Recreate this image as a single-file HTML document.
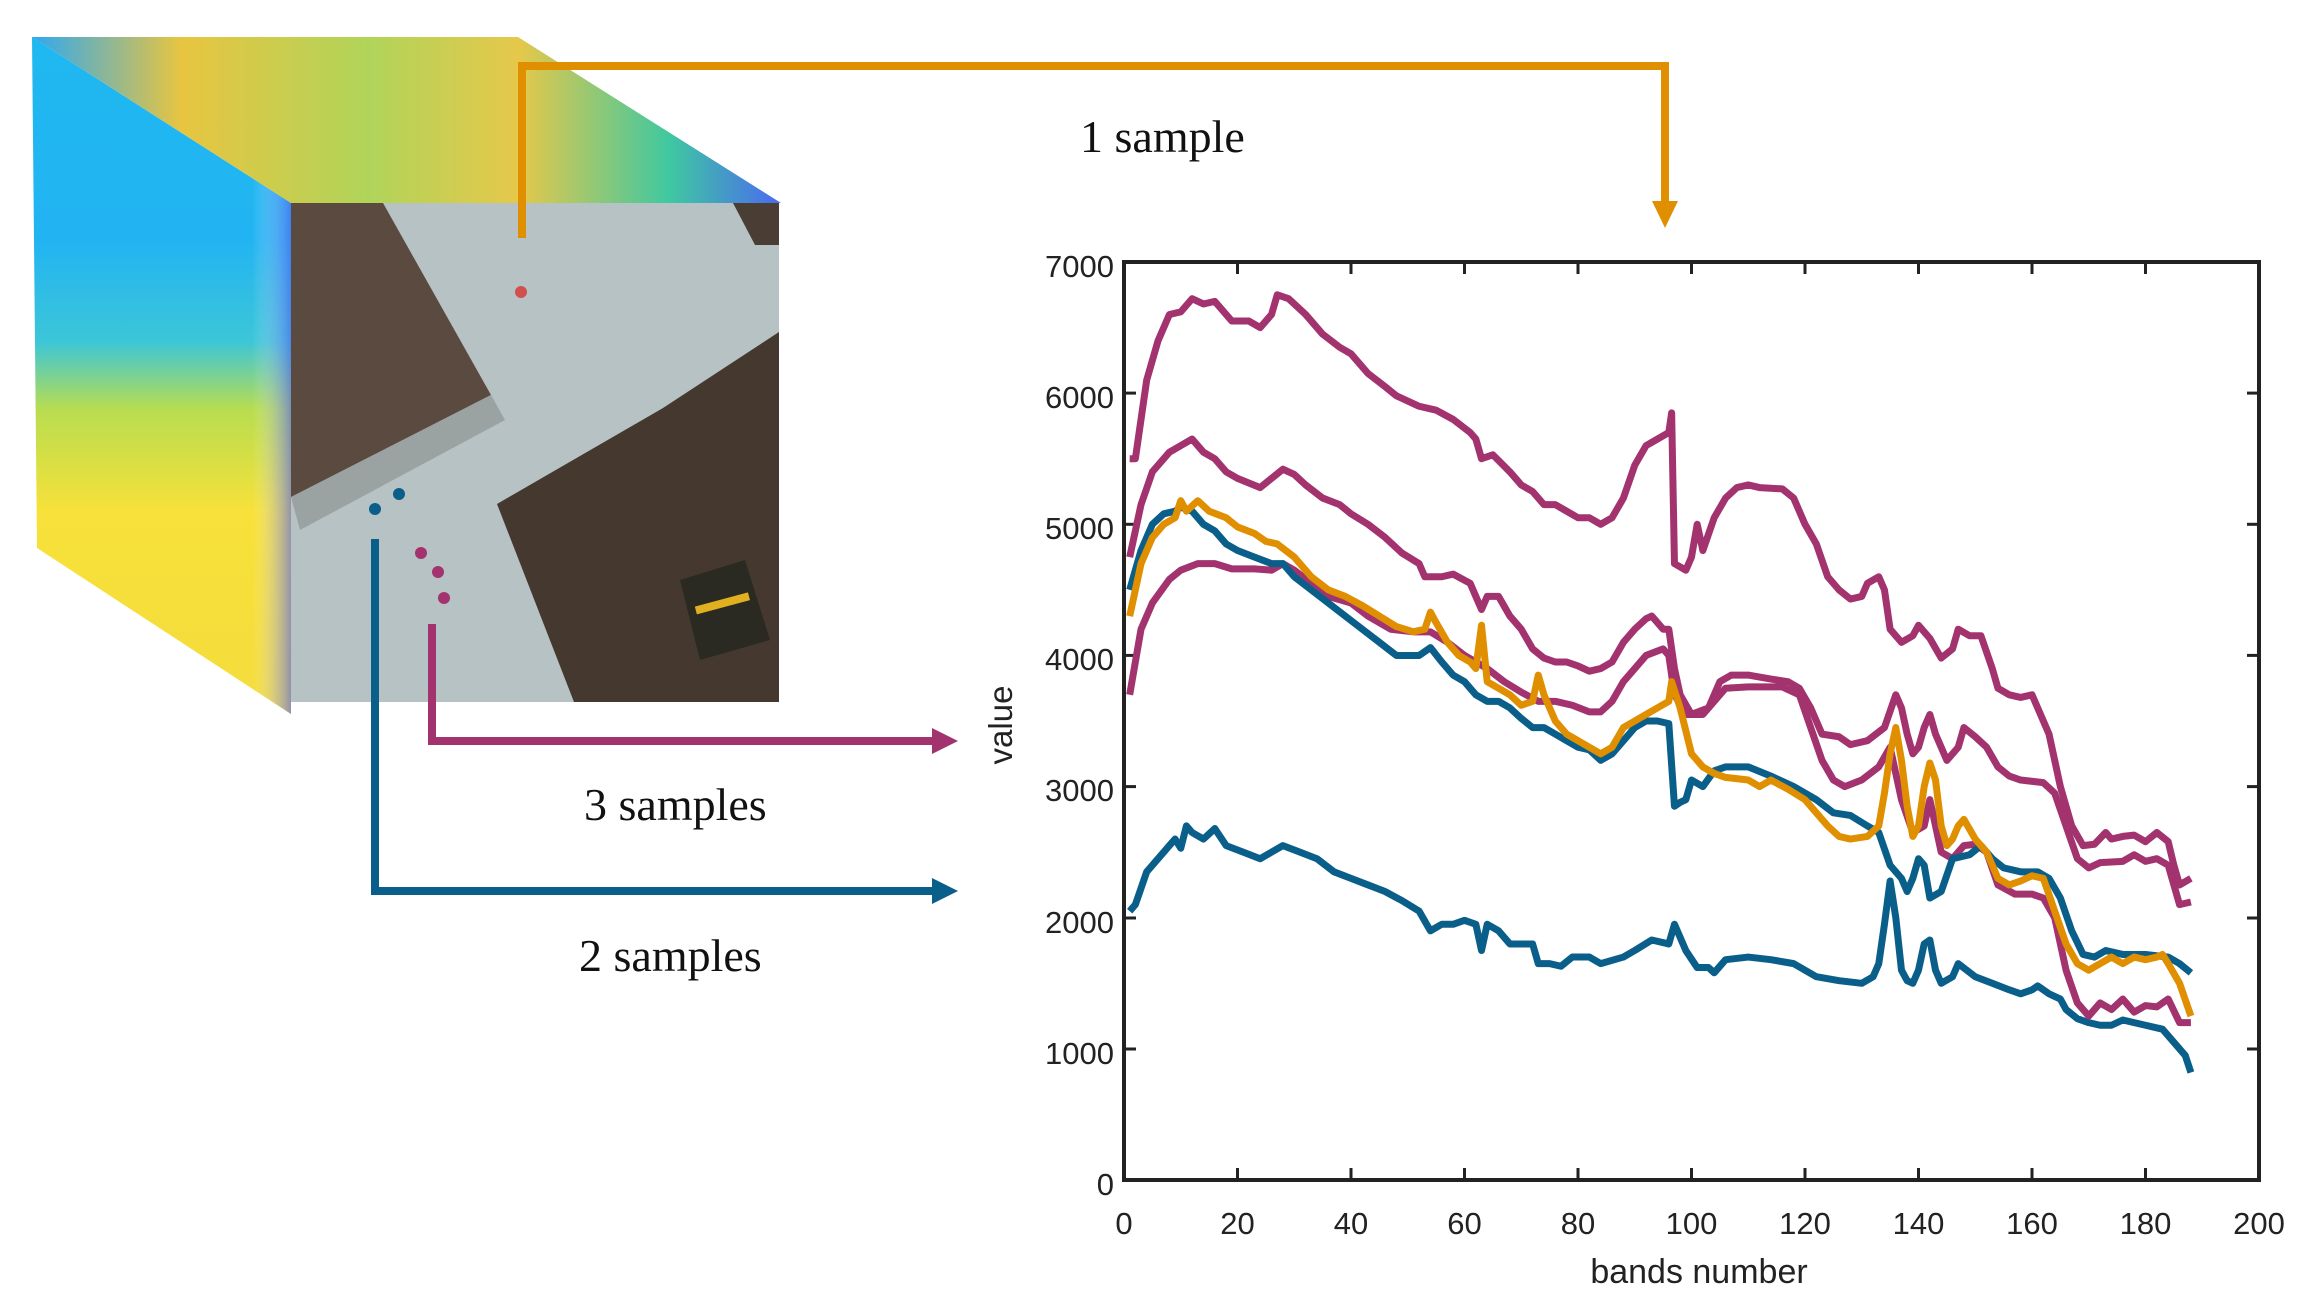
<!DOCTYPE html>
<html><head><meta charset="utf-8"><style>
html,body{margin:0;padding:0;background:#fff;}
svg{display:block;}
</style></head><body>
<svg width="2305" height="1305" viewBox="0 0 2305 1305" xmlns="http://www.w3.org/2000/svg">
<defs>
<linearGradient id="lf" x1="0" y1="0" x2="0" y2="1">
<stop offset="0" stop-color="#1fb8f0"/><stop offset="0.3" stop-color="#22b4f2"/><stop offset="0.45" stop-color="#3cc6d8"/><stop offset="0.55" stop-color="#b8dd50"/><stop offset="0.7" stop-color="#f7e13a"/><stop offset="1" stop-color="#f4dc3c"/>
</linearGradient>
<linearGradient id="lf2" x1="0" y1="0" x2="1" y2="0">
<stop offset="0" stop-color="#fff" stop-opacity="0"/><stop offset="0.85" stop-color="#fff" stop-opacity="0"/><stop offset="1" stop-color="#5060f0" stop-opacity="0.6"/>
</linearGradient>
<linearGradient id="tf" x1="0" y1="0" x2="1" y2="0">
<stop offset="0" stop-color="#30a8f0"/><stop offset="0.2" stop-color="#e8c540"/><stop offset="0.45" stop-color="#b0d45a"/><stop offset="0.65" stop-color="#e6c84a"/><stop offset="0.85" stop-color="#40c8a0"/><stop offset="1" stop-color="#4a6af0"/>
</linearGradient>
</defs>
<polygon points="32,37 291,203 291,714 37,548" fill="url(#lf)"/>
<polygon points="32,37 291,203 291,714 37,548" fill="url(#lf2)"/>
<polygon points="32,37 518,37 781,203 291,203" fill="url(#tf)"/>
<rect x="291" y="203" width="488" height="499" fill="#b7c2c4"/>
<polygon points="291,203 383,203 491,395 291,497" fill="#5a4a40"/>
<polygon points="291,497 491,395 505,420 300,530" fill="#9aa2a2"/>
<polygon points="497,504 663,408 779,332 779,702 574,702" fill="#45382f"/>
<polygon points="733,203 779,203 779,245 755,245" fill="#4a3d33"/>
<polygon points="680,580 745,560 770,640 700,660" fill="#2a2a22"/>
<rect x="695" y="600" width="55" height="8" fill="#e0b020" transform="rotate(-15 720 604)"/>
<circle cx="521" cy="292" r="6" fill="#d05050"/>
<circle cx="375" cy="509" r="6" fill="#0a5f8a"/>
<circle cx="399" cy="494" r="6" fill="#0a5f8a"/>
<circle cx="421" cy="553" r="6" fill="#a3336e"/>
<circle cx="438" cy="572" r="6" fill="#a3336e"/>
<circle cx="444" cy="598" r="6" fill="#a3336e"/>
<g fill="none" stroke-width="8" stroke-linejoin="miter">
<polyline points="522,238 522,66 1665,66 1665,205" stroke="#e08f00"/>
<polyline points="432,624 432,741 935,741" stroke="#a3336e"/>
<polyline points="375,539 375,891 935,891" stroke="#0a5f8a"/>
</g>
<polygon points="1652,201 1678,201 1665,228" fill="#e08f00"/>
<polygon points="932,728 932,754 958,741" fill="#a3336e"/>
<polygon points="932,878 932,904 958,891" fill="#0a5f8a"/>
<g font-family="Liberation Serif, serif" font-size="46" fill="#111">
<text x="1080" y="152">1 sample</text>
<text x="584" y="820">3 samples</text>
<text x="579" y="971">2 samples</text>
</g>
<g stroke="#222" stroke-width="4" fill="none">
<rect x="1124" y="262" width="1135" height="918"/>
</g>
<g stroke="#222" stroke-width="3">
<line x1="1237.5" y1="1180" x2="1237.5" y2="1168"/><line x1="1237.5" y1="262" x2="1237.5" y2="274"/>
<line x1="1351" y1="1180" x2="1351" y2="1168"/><line x1="1351" y1="262" x2="1351" y2="274"/>
<line x1="1464.5" y1="1180" x2="1464.5" y2="1168"/><line x1="1464.5" y1="262" x2="1464.5" y2="274"/>
<line x1="1578" y1="1180" x2="1578" y2="1168"/><line x1="1578" y1="262" x2="1578" y2="274"/>
<line x1="1691.5" y1="1180" x2="1691.5" y2="1168"/><line x1="1691.5" y1="262" x2="1691.5" y2="274"/>
<line x1="1805" y1="1180" x2="1805" y2="1168"/><line x1="1805" y1="262" x2="1805" y2="274"/>
<line x1="1918.5" y1="1180" x2="1918.5" y2="1168"/><line x1="1918.5" y1="262" x2="1918.5" y2="274"/>
<line x1="2032" y1="1180" x2="2032" y2="1168"/><line x1="2032" y1="262" x2="2032" y2="274"/>
<line x1="2145.5" y1="1180" x2="2145.5" y2="1168"/><line x1="2145.5" y1="262" x2="2145.5" y2="274"/>
<line x1="1124" y1="1049" x2="1136" y2="1049"/><line x1="2259" y1="1049" x2="2247" y2="1049"/>
<line x1="1124" y1="918" x2="1136" y2="918"/><line x1="2259" y1="918" x2="2247" y2="918"/>
<line x1="1124" y1="786.6" x2="1136" y2="786.6"/><line x1="2259" y1="786.6" x2="2247" y2="786.6"/>
<line x1="1124" y1="655.4" x2="1136" y2="655.4"/><line x1="2259" y1="655.4" x2="2247" y2="655.4"/>
<line x1="1124" y1="524.3" x2="1136" y2="524.3"/><line x1="2259" y1="524.3" x2="2247" y2="524.3"/>
<line x1="1124" y1="393.1" x2="1136" y2="393.1"/><line x1="2259" y1="393.1" x2="2247" y2="393.1"/>
</g>
<g font-family="Liberation Sans, sans-serif" font-size="31" fill="#222" text-anchor="middle">
<text x="1124" y="1234">0</text><text x="1237.5" y="1234">20</text><text x="1351" y="1234">40</text><text x="1464.5" y="1234">60</text><text x="1578" y="1234">80</text><text x="1691.5" y="1234">100</text><text x="1805" y="1234">120</text><text x="1918.5" y="1234">140</text><text x="2032" y="1234">160</text><text x="2145.5" y="1234">180</text><text x="2259" y="1234">200</text>
</g>
<g font-family="Liberation Sans, sans-serif" font-size="31" fill="#222" text-anchor="end">
<text x="1114" y="1195">0</text><text x="1114" y="1064">1000</text><text x="1114" y="933">2000</text><text x="1114" y="801">3000</text><text x="1114" y="670">4000</text><text x="1114" y="539">5000</text><text x="1114" y="408">6000</text><text x="1114" y="277">7000</text>
</g>
<text x="1699" y="1283" font-family="Liberation Sans, sans-serif" font-size="34" fill="#222" text-anchor="middle">bands number</text>
<text transform="translate(1012,725) rotate(-90)" font-family="Liberation Sans, sans-serif" font-size="33" fill="#222" text-anchor="middle">value</text>
<g transform="translate(1124,1180) scale(5.675,-0.13114)" fill="none" stroke-width="7" stroke-linejoin="round">
<polyline vector-effect="non-scaling-stroke" stroke="#0a5f8a" points="1,2050 2,2100 4,2350 6,2450 8,2550 9,2600 10,2530 11,2700 12,2650 14,2600 16,2680 18,2550 21,2500 24,2450 26,2500 28,2550 31,2500 34,2450 37,2350 40,2300 43,2250 46,2200 49,2130 52,2050 54,1900 56,1950 58,1950 60,1980 62,1950 63,1750 64,1950 66,1900 68,1800 70,1800 72,1800 73,1650 75,1650 77,1630 79,1700 82,1700 84,1650 88,1700 90,1750 93,1830 96,1800 97,1950 99,1750 101,1620 103,1620 104,1580 106,1680 110,1700 114,1680 118,1650 122,1550 126,1520 130,1500 132,1550 133,1650 134,1950 135,2280 136,2000 137,1600 138,1520 139,1500 140,1600 141,1800 142,1830 143,1600 144,1500 146,1550 147,1650 150,1550 153,1500 156,1450 158,1420 160,1450 161,1480 163,1420 165,1380 166,1300 168,1230 170,1200 172,1180 174,1180 176,1220 178,1200 180,1180 183,1150 185,1050 187,950 188,820"/>
<polyline vector-effect="non-scaling-stroke" stroke="#a3336e" points="1,5500 2,5500 4,6100 6,6400 8,6600 10,6620 12,6720 14,6680 16,6700 19,6550 22,6550 24,6500 26,6600 27,6750 29,6720 32,6600 35,6450 38,6350 40,6300 43,6150 46,6050 48,5980 52,5900 55,5870 58,5800 61,5700 62,5650 63,5500 65,5530 68,5400 70,5300 72,5250 74,5150 76,5150 78,5100 80,5050 82,5050 84,5000 86,5050 88,5200 90,5450 92,5600 94,5650 96,5700 96.5,5850 97,4700 99,4650 100,4750 101,5000 102,4800 104,5050 106,5200 108,5280 110,5300 112,5280 116,5270 118,5200 120,5000 122,4850 124,4600 126,4500 128,4430 130,4450 131,4550 133,4600 134,4500 135,4200 137,4100 139,4150 140,4230 142,4130 144,3980 146,4050 147,4200 149,4150 151,4150 153,3900 154,3750 156,3700 158,3680 160,3700 161,3600 163,3400 165,3000 167,2700 169,2550 171,2560 173,2650 174,2600 176,2620 178,2630 180,2580 182,2650 184,2580 185,2400 186,2250 188,2300"/>
<polyline vector-effect="non-scaling-stroke" stroke="#a3336e" points="1,4750 3,5150 5,5400 8,5550 10,5600 12,5650 14,5550 16,5500 18,5400 20,5350 24,5280 26,5350 28,5420 30,5380 32,5300 35,5200 38,5150 40,5080 43,5000 46,4900 49,4780 52,4700 53,4600 56,4600 58,4620 61,4550 62,4450 63,4350 64,4450 66,4450 68,4300 70,4200 72,4050 74,3980 76,3950 78,3950 80,3920 82,3880 84,3900 86,3950 88,4100 90,4200 92,4280 93,4300 95,4200 96,4200 97,3900 98,3700 100,3550 103,3600 105,3800 107,3850 110,3850 114,3820 117,3800 119,3750 121,3600 123,3400 126,3380 128,3320 131,3350 134,3450 136,3700 137,3600 138,3400 139,3250 140,3300 141,3450 142,3550 143,3400 144,3300 145,3200 147,3300 148,3450 150,3380 152,3300 154,3150 156,3080 158,3050 162,3030 164,2950 166,2700 168,2450 170,2380 172,2420 176,2430 178,2480 180,2430 182,2450 184,2400 186,2100 188,2120"/>
<polyline vector-effect="non-scaling-stroke" stroke="#a3336e" points="1,3700 3,4200 5,4400 8,4580 10,4650 13,4700 16,4700 19,4660 23,4660 26,4650 28,4700 30,4650 33,4550 36,4450 40,4400 43,4300 47,4200 51,4180 54,4180 57,4100 60,4000 64,3900 67,3800 70,3720 73,3650 76,3650 79,3620 82,3570 84,3570 86,3650 88,3800 90,3900 92,4000 95,4050 96,4000 97,3700 99,3550 102,3550 104,3650 106,3750 110,3760 116,3760 119,3700 121,3450 123,3200 125,3050 127,3000 130,3050 133,3150 135,3300 137,2900 139,2650 141,2700 142,2900 144,2500 146,2450 148,2550 150,2560 152,2500 154,2250 157,2180 160,2180 162,2150 164,2000 166,1600 168,1350 170,1250 172,1350 174,1300 176,1380 178,1280 180,1330 182,1320 184,1380 186,1200 188,1200"/>
<polyline vector-effect="non-scaling-stroke" stroke="#0a5f8a" points="1,4500 3,4800 5,5000 7,5080 9,5100 10,5130 12,5100 14,5000 16,4950 18,4850 20,4800 23,4750 26,4700 28,4700 30,4600 33,4500 36,4400 39,4300 42,4200 45,4100 48,4000 52,4000 54,4060 56,3950 58,3850 60,3800 62,3700 64,3650 66,3650 68,3600 70,3520 72,3450 74,3450 76,3400 78,3350 80,3300 82,3280 84,3200 86,3250 88,3350 90,3450 92,3500 94,3500 96,3480 97,2850 98,2880 99,2900 100,3050 102,3000 104,3120 106,3150 110,3150 114,3080 118,3000 122,2900 125,2800 128,2780 131,2700 133,2650 135,2400 137,2300 138,2200 139,2300 140,2450 141,2400 142,2150 144,2200 146,2450 149,2480 151,2550 153,2450 155,2380 158,2350 161,2350 163,2300 165,2150 167,1900 169,1720 171,1700 173,1750 176,1720 180,1720 184,1700 186,1650 188,1580"/>
<polyline vector-effect="non-scaling-stroke" stroke="#e08f00" points="1,4300 3,4700 5,4900 7,5000 9,5050 10,5180 11,5100 13,5180 15,5100 18,5050 20,4980 23,4930 25,4870 27,4850 30,4750 33,4600 36,4500 39,4450 42,4380 45,4300 48,4220 51,4180 53,4200 54,4330 55,4250 57,4100 59,4000 61,3950 62,3900 63,4230 64,3800 66,3750 68,3700 70,3620 72,3650 73,3850 74,3700 76,3500 78,3400 80,3350 82,3300 84,3250 86,3300 88,3450 90,3500 92,3550 94,3600 96,3650 96.5,3800 98,3600 100,3250 102,3150 104,3100 106,3070 110,3050 112,3000 114,3050 117,2980 120,2900 122,2800 124,2700 126,2620 128,2600 131,2620 133,2700 134,2950 135,3250 136,3450 137,3200 138,2850 139,2620 140,2700 141,3000 142,3180 143,3050 144,2700 145,2550 146,2600 147,2700 148,2750 150,2600 152,2500 154,2300 156,2250 158,2280 160,2320 162,2300 164,2050 166,1800 168,1650 170,1600 172,1650 174,1700 176,1650 178,1700 180,1680 182,1700 183,1720 184,1650 186,1500 188,1250"/>
</g>
</svg>
</body></html>
